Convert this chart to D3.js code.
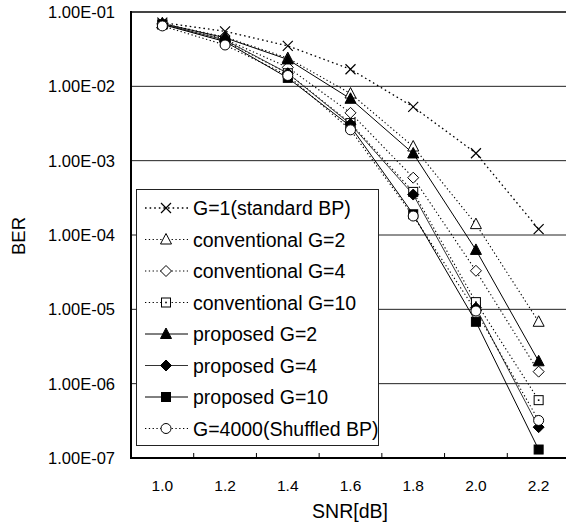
<!DOCTYPE html>
<html>
<head>
<meta charset="utf-8">
<script src="https://cdn.jsdelivr.net/npm/d3@7"></script>
<style>
  body { margin: 0; background: #fff; }
  svg { display: block; font-family: "Liberation Sans", Arial, sans-serif; }
</style>
</head>
<body>
<svg id="chart" width="566" height="522"></svg>
<script>
// x categories (SNR in dB)
var snr = ["1.0", "1.2", "1.4", "1.6", "1.8", "2.0", "2.2"];
var yTicks = [1e-1, 1e-2, 1e-3, 1e-4, 1e-5, 1e-6, 1e-7];

// BER values
var g1        = [7.2e-2, 5.5e-2, 3.5e-2, 1.7e-2, 5.3e-3, 1.26e-3, 1.2e-4];
var convG2    = [7.0e-2, 4.6e-2, 2.4e-2, 8.0e-3, 1.55e-3, 1.4e-4, 6.8e-6];
var convG4    = [6.9e-2, 4.3e-2, 1.8e-2, 4.4e-3, 5.9e-4, 3.3e-5, 1.45e-6];
var convG10   = [6.8e-2, 4.1e-2, 1.5e-2, 3.2e-3, 3.8e-4, 1.25e-5, 6.0e-7];
var propG2    = [7.0e-2, 4.5e-2, 2.3e-2, 6.8e-3, 1.25e-3, 6.3e-5, 2.0e-6];
var propG4    = [6.9e-2, 4.2e-2, 1.5e-2, 3.1e-3, 3.5e-4, 1.05e-5, 2.6e-7];
var propG10   = [6.8e-2, 4.0e-2, 1.3e-2, 2.9e-3, 1.9e-4, 6.8e-6, 1.3e-7];
var shuffled  = [6.5e-2, 3.6e-2, 1.4e-2, 2.6e-3, 1.8e-4, 9.5e-6, 3.2e-7];

var series = [
  { name: "G=1(standard BP)",     values: g1,       mark: "x",        dash: "1.6,3", lw: 1.3, col: "#000" },
  { name: "conventional G=2",     values: convG2,   mark: "triOpen",  dash: "1.3,2.5", lw: 1.1, col: "#000" },
  { name: "conventional G=4",     values: convG4,   mark: "diaOpen",  dash: "1.3,2.5", lw: 1.1, col: "#000" },
  { name: "conventional G=10",    values: convG10,  mark: "sqOpen",   dash: "1.3,2.5", lw: 1.1, col: "#000" },
  { name: "proposed G=2",         values: propG2,   mark: "tri",      dash: null, lw: 1, col: "#000" },
  { name: "proposed G=4",         values: propG4,   mark: "dia",      dash: null, lw: 1, col: "#333" },
  { name: "proposed G=10",        values: propG10,  mark: "sq",       dash: null, lw: 1, col: "#000" },
  { name: "G=4000(Shuffled BP)",  values: shuffled, mark: "circOpen", dash: "1.3,2.5", lw: 1.1, col: "#000" }
];

var svg = d3.select("#chart");
var plotL = 131, plotR = 570, plotT = 12, plotB = 458;

var x = d3.scaleBand().domain(snr).range([plotL, plotR]).padding(0);
var y = d3.scaleLog().domain([1e-7, 1e-1]).range([plotB, plotT]);

svg.append("clipPath").attr("id", "clip")
  .append("rect").attr("x", plotL).attr("y", plotT - 2).attr("width", plotR - plotL).attr("height", plotB - plotT + 4);

// gridlines
svg.append("g").selectAll("line")
  .data(yTicks.filter(function(d) { return d !== 1e-7 && d !== 1e-1; }))
  .enter().append("line")
  .attr("x1", plotL).attr("x2", plotR)
  .attr("y1", function(d) { return y(d); }).attr("y2", function(d) { return y(d); })
  .attr("stroke", "#222").attr("stroke-width", 1);

// y tick labels
svg.append("g").selectAll("text")
  .data(yTicks).enter().append("text")
  .attr("x", 115).attr("y", function(d) { return y(d); })
  .attr("dy", "0.36em")
  .attr("text-anchor", "end")
  .attr("font-size", 16.5)
  .text(function(d) {
    var e = Math.round(-Math.log10(d));
    return "1.00E-" + (e < 10 ? "0" + e : e);
  });

// series
var plot = svg.append("g").attr("clip-path", "url(#clip)");
var line = d3.line()
  .x(function(d, i) { return x(snr[i]) + x.bandwidth() / 2; })
  .y(function(d) { return y(d); });

function drawMark(g, type, cx, cy) {
  if (type === "x") {
    g.append("path").attr("d", "M" + (cx - 5) + "," + (cy - 5) + "L" + (cx + 5) + "," + (cy + 5) +
      "M" + (cx - 5) + "," + (cy + 5) + "L" + (cx + 5) + "," + (cy - 5))
      .attr("stroke", "#000").attr("stroke-width", 1.2).attr("fill", "none");
  } else if (type === "tri" || type === "triOpen") {
    g.append("path").attr("d", "M" + cx + "," + (cy - 6) + "L" + (cx + 5.5) + "," + (cy + 4.5) + "L" + (cx - 5.5) + "," + (cy + 4.5) + "Z")
      .attr("fill", type === "tri" ? "#000" : "#fff").attr("stroke", "#000").attr("stroke-width", 1);
  } else if (type === "dia" || type === "diaOpen") {
    g.append("path").attr("d", "M" + cx + "," + (cy - 5.5) + "L" + (cx + 5.5) + "," + cy + "L" + cx + "," + (cy + 5.5) + "L" + (cx - 5.5) + "," + cy + "Z")
      .attr("fill", type === "dia" ? "#000" : "#fff").attr("stroke", "#000").attr("stroke-width", 1);
  } else if (type === "sq" || type === "sqOpen") {
    g.append("rect").attr("x", cx - 4.5).attr("y", cy - 4.5).attr("width", 9).attr("height", 9)
      .attr("fill", type === "sq" ? "#000" : "#fff").attr("stroke", "#000").attr("stroke-width", 1);
    if (type === "sqOpen") {
      g.append("rect").attr("x", cx - 0.8).attr("y", cy - 0.8).attr("width", 1.6).attr("height", 1.6).attr("fill", "#000");
    }
  } else if (type === "circOpen") {
    g.append("circle").attr("cx", cx).attr("cy", cy).attr("r", 5)
      .attr("fill", "#fff").attr("stroke", "#000").attr("stroke-width", 1);
  }
}

series.forEach(function(s) {
  plot.append("path").datum(s.values)
    .attr("d", line)
    .attr("fill", "none")
    .attr("stroke", s.col)
    .attr("stroke-width", s.lw)
    .attr("stroke-dasharray", s.dash);
});
series.forEach(function(s) {
  var g = plot.append("g");
  s.values.forEach(function(v, i) {
    drawMark(g, s.mark, x(snr[i]) + x.bandwidth() / 2, y(v));
  });
});

// frame: top border, left and bottom axes
svg.append("line").attr("x1", plotL).attr("x2", plotR).attr("y1", plotT).attr("y2", plotT)
  .attr("stroke", "#444").attr("stroke-width", 2);
svg.append("line").attr("x1", plotL).attr("x2", plotL).attr("y1", plotT - 1).attr("y2", plotB + 1)
  .attr("stroke", "#000").attr("stroke-width", 2);
svg.append("line").attr("x1", plotL - 1).attr("x2", plotR).attr("y1", plotB).attr("y2", plotB)
  .attr("stroke", "#000").attr("stroke-width", 2);

// x ticks at band boundaries, pointing up
svg.append("g").selectAll("line")
  .data(snr.slice(1)).enter().append("line")
  .attr("x1", function(d) { return x(d); }).attr("x2", function(d) { return x(d); })
  .attr("y1", plotB).attr("y2", plotB - 5)
  .attr("stroke", "#000").attr("stroke-width", 1);

// x tick labels
svg.append("g").selectAll("text")
  .data(snr).enter().append("text")
  .attr("x", function(d) { return x(d) + x.bandwidth() / 2; })
  .attr("y", 491)
  .attr("text-anchor", "middle")
  .attr("font-size", 15.5)
  .text(function(d) { return d; });

// axis titles
svg.append("text").attr("x", 350).attr("y", 518).attr("text-anchor", "middle")
  .attr("font-size", 19.5).text("SNR[dB]");
svg.append("text").attr("transform", "translate(25,236) rotate(-90)")
  .attr("text-anchor", "middle").attr("font-size", 18.5).text("BER");

// legend
var lg = svg.append("g");
lg.append("rect").attr("x", 136.5).attr("y", 189.5).attr("width", 242).attr("height", 256)
  .attr("fill", "#fff").attr("stroke", "#222").attr("stroke-width", 1);
series.forEach(function(s, i) {
  var cy = 208 + i * 31.5;
  lg.append("line").attr("x1", 145).attr("x2", 188).attr("y1", cy).attr("y2", cy)
    .attr("stroke", s.col).attr("stroke-width", s.lw).attr("stroke-dasharray", s.dash);
  drawMark(lg, s.mark, 166, cy);
  lg.append("text").attr("x", 193).attr("y", cy).attr("dy", "0.36em")
    .attr("font-size", 19.5).text(s.name);
});
</script>
</body>
</html>
